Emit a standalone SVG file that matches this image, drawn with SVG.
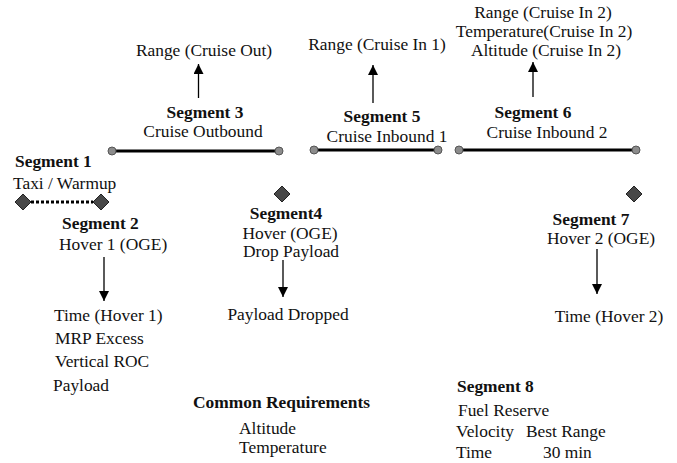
<svg xmlns="http://www.w3.org/2000/svg" width="677" height="463" viewBox="0 0 677 463">
<defs>
<style>
text{font-family:"Liberation Serif","Times New Roman",serif;font-size:17.4px;fill:#111}
.b{font-weight:bold}
.seg{stroke:#000;stroke-width:3;fill:none}
.end{fill:#8c8c8c;stroke:#555;stroke-width:1}
.dia{fill:#484848;stroke:#222;stroke-width:1}
.arr{stroke:#000;stroke-width:1.3;fill:none;marker-end:url(#ah)}
</style>
<marker id="ah" viewBox="0 0 10 10" refX="10" refY="5" markerWidth="10" markerHeight="10" markerUnits="userSpaceOnUse" orient="auto">
<path d="M0,0 L10,5 L0,10 z" fill="#000"/>
</marker>
</defs>
<rect width="677" height="463" fill="#fff"/>
<g id="connectors">
<line class="seg" x1="112" y1="151" x2="279" y2="151"/>
<line class="seg" x1="314" y1="150" x2="438" y2="150"/>
<line class="seg" x1="459" y1="150" x2="636" y2="150"/>
<line x1="31" y1="202" x2="93" y2="202" stroke="#000" stroke-width="3" stroke-dasharray="3,2"/>
<line class="arr" x1="198.5" y1="98" x2="198.5" y2="64"/>
<line class="arr" x1="373" y1="103" x2="373" y2="65"/>
<line class="arr" x1="533" y1="97" x2="533" y2="62"/>
<line class="arr" x1="104" y1="257" x2="104" y2="301"/>
<line class="arr" x1="283" y1="260" x2="283" y2="297"/>
<line class="arr" x1="597" y1="249" x2="597" y2="294"/>
</g>
<g id="seg1">
<text class="b" x="15" y="167">Segment 1</text>
<text x="13" y="189">Taxi / Warmup</text>
<path class="dia" d="M23,194 L31,202 L23,210 L15,202 z"/>
<path class="dia" d="M101,194 L109,202 L101,210 L93,202 z"/>
</g>
<g id="seg2">
<text class="b" x="62" y="229">Segment 2</text>
<text x="59" y="250">Hover 1 (OGE)</text>
</g>
<g id="seg2-out">
<text x="54" y="321">Time (Hover 1)</text>
<text x="55" y="344">MRP Excess</text>
<text x="55" y="367">Vertical ROC</text>
<text x="53" y="391">Payload</text>
</g>
<g id="seg3">
<text class="b" x="205" y="118" text-anchor="middle">Segment 3</text>
<text x="203" y="137" text-anchor="middle">Cruise Outbound</text>
<circle class="end" cx="112" cy="151" r="4"/>
<circle class="end" cx="279" cy="151" r="4"/>
</g>
<g id="seg3-out"><text x="204" y="56" text-anchor="middle">Range (Cruise Out)</text></g>
<g id="seg4">
<path class="dia" d="M282,186 L290,194 L282,202 L274,194 z"/>
<text class="b" x="286" y="219" text-anchor="middle">Segment4</text>
<text x="290" y="239" text-anchor="middle">Hover (OGE)</text>
<text x="291" y="257" text-anchor="middle">Drop Payload</text>
</g>
<g id="seg4-out"><text x="288" y="320" text-anchor="middle">Payload Dropped</text></g>
<g id="seg5">
<text class="b" x="382" y="122" text-anchor="middle">Segment 5</text>
<text x="387" y="142" text-anchor="middle">Cruise Inbound 1</text>
<circle class="end" cx="314" cy="150" r="4"/>
<circle class="end" cx="438" cy="150" r="4"/>
</g>
<g id="seg5-out"><text x="377" y="50" text-anchor="middle">Range (Cruise In 1)</text></g>
<g id="seg6">
<text class="b" x="533" y="118" text-anchor="middle">Segment 6</text>
<text x="547" y="138" text-anchor="middle">Cruise Inbound 2</text>
<circle class="end" cx="459" cy="150" r="4"/>
<circle class="end" cx="636" cy="150" r="4"/>
</g>
<g id="seg6-out">
<text x="543" y="18" text-anchor="middle">Range (Cruise In 2)</text>
<text x="544" y="37" text-anchor="middle">Temperature(Cruise In 2)</text>
<text x="546" y="56" text-anchor="middle">Altitude (Cruise In 2)</text>
</g>
<g id="seg7">
<path class="dia" d="M634,186 L642,194 L634,202 L626,194 z"/>
<text class="b" x="591" y="225" text-anchor="middle">Segment 7</text>
<text x="601" y="244" text-anchor="middle">Hover 2 (OGE)</text>
</g>
<g id="seg7-out"><text x="609" y="322" text-anchor="middle">Time (Hover 2)</text></g>
<g id="common">
<text class="b" x="193" y="408">Common Requirements</text>
<text x="239" y="434">Altitude</text>
<text x="239" y="453">Temperature</text>
</g>
<g id="seg8">
<text class="b" x="457" y="392">Segment 8</text>
<text x="458" y="416">Fuel Reserve</text>
<text x="456" y="437">Velocity</text>
<text x="526" y="437">Best Range</text>
<text x="456" y="458">Time</text>
<text x="543" y="458">30 min</text>
</g>
</svg>
